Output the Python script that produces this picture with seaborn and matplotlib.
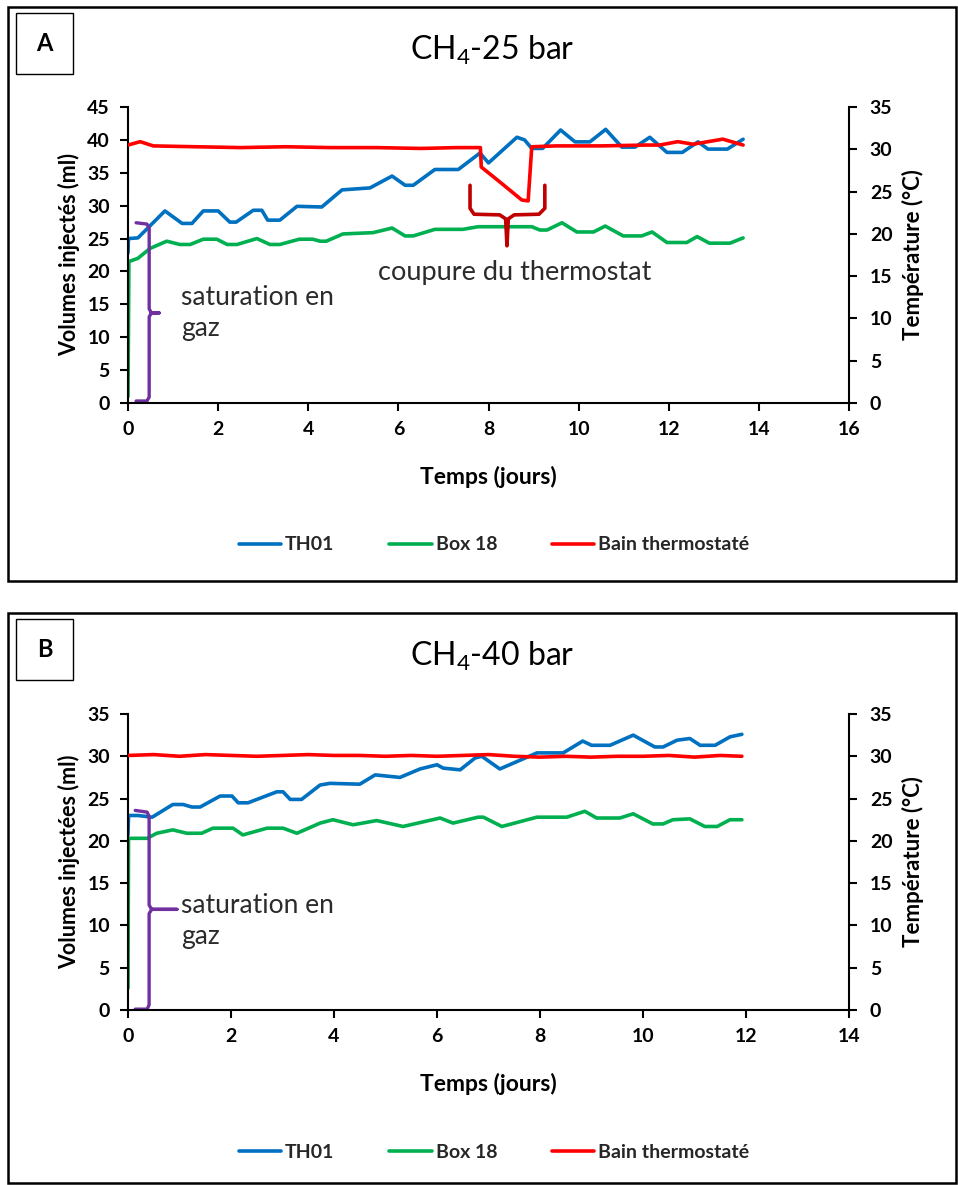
import matplotlib
matplotlib.use("Agg")
import matplotlib.pyplot as plt
import seaborn as sns
from matplotlib.patches import Rectangle

sns.set_theme(style="white")
plt.rcParams['font.family'] = ['Lato', 'DejaVu Sans']
plt.rcParams['mathtext.fontset'] = 'custom'
plt.rcParams['mathtext.rm'] = 'Lato'
plt.rcParams['mathtext.it'] = 'Lato:italic'
plt.rcParams['mathtext.bf'] = 'Lato:bold'

# ---------------- Data: panel A (CH4-25 bar) ----------------
a_th01_days = [0, 0.01, 0.22, 0.82, 1.2, 1.42, 1.67, 2.0, 2.26, 2.4, 2.78, 2.97, 3.1, 3.37, 3.75, 4.3,
               4.75, 5.37, 5.86, 6.15, 6.33, 6.81, 7.33, 7.81, 8.0, 8.63, 8.8, 8.96, 9.2, 9.6, 9.92,
               10.25, 10.6, 10.96, 11.25, 11.58, 11.96, 12.3, 12.65, 12.87, 13.3, 13.65]
a_th01 = [22.8, 25.0, 25.1, 29.2, 27.3, 27.3, 29.2, 29.2, 27.5, 27.5, 29.3, 29.3, 27.8, 27.8, 29.9, 29.8,
          32.4, 32.7, 34.5, 33.1, 33.1, 35.5, 35.5, 38.0, 36.5, 40.4, 40.0, 38.7, 38.7, 41.5, 39.7,
          39.7, 41.6, 38.9, 38.9, 40.4, 38.1, 38.1, 39.7, 38.6, 38.6, 40.1]

a_box_days = [0, 0.02, 0.1, 0.22, 0.49, 0.86, 1.15, 1.38, 1.67, 1.97, 2.2, 2.42, 2.86, 3.15, 3.37, 3.8,
              4.1, 4.26, 4.4, 4.77, 5.44, 5.86, 6.15, 6.33, 6.81, 7.43, 7.77, 8.96, 9.14, 9.3, 9.63,
              9.96, 10.33, 10.59, 10.99, 11.4, 11.63, 11.96, 12.4, 12.63, 12.9, 13.36, 13.65]
a_box = [1.0, 21.5, 21.7, 22.0, 23.5, 24.6, 24.1, 24.1, 24.9, 24.9, 24.1, 24.1, 25.0, 24.1, 24.1, 24.9,
         24.9, 24.6, 24.6, 25.7, 25.9, 26.6, 25.4, 25.4, 26.4, 26.4, 26.8, 26.8, 26.3, 26.3, 27.4,
         26.0, 26.0, 26.9, 25.4, 25.4, 26.0, 24.4, 24.4, 25.3, 24.3, 24.3, 25.1]

a_bain_days = [0, 0.27, 0.56, 1.5, 2.5, 3.5, 4.5, 5.5, 6.5, 7.3, 7.82, 7.84, 8.26, 8.74, 8.88, 8.96,
               9.5, 10.5, 11.5, 11.8, 12.2, 12.54, 13.2, 13.65]
a_bain = [30.5, 30.9, 30.4, 30.3, 30.2, 30.3, 30.2, 30.2, 30.1, 30.2, 30.2, 27.9, 26.1, 24.0, 23.9, 30.3,
          30.4, 30.4, 30.5, 30.5, 30.9, 30.6, 31.2, 30.5]

# ---------------- Data: panel B (CH4-40 bar) ----------------
b_th01_days = [0, 0.01, 0.19, 0.47, 0.87, 1.07, 1.24, 1.4, 1.79, 2.02, 2.14, 2.33, 2.89, 3.01, 3.15,
               3.37, 3.73, 3.92, 4.5, 4.8, 5.28, 5.67, 6.0, 6.12, 6.45, 6.74, 6.87, 7.22, 7.94, 8.45,
               8.83, 9.0, 9.36, 9.81, 10.23, 10.39, 10.66, 10.91, 11.11, 11.4, 11.69, 11.92]
b_th01 = [20.7, 23.0, 23.0, 22.8, 24.3, 24.3, 24.0, 24.0, 25.3, 25.3, 24.5, 24.5, 25.8, 25.8, 24.9,
          24.9, 26.6, 26.8, 26.7, 27.8, 27.5, 28.5, 29.0, 28.6, 28.4, 29.8, 30.0, 28.5, 30.4, 30.4,
          31.8, 31.3, 31.3, 32.5, 31.1, 31.1, 31.9, 32.1, 31.3, 31.3, 32.3, 32.6]

b_box_days = [0, 0.01, 0.37, 0.56, 0.87, 1.14, 1.43, 1.65, 2.04, 2.23, 2.7, 3.01, 3.28, 3.73, 3.98,
              4.37, 4.83, 5.34, 6.06, 6.31, 6.8, 6.9, 7.26, 7.94, 8.52, 8.87, 9.1, 9.55, 9.81, 10.19,
              10.39, 10.58, 10.91, 11.2, 11.44, 11.69, 11.92]
b_box = [2.6, 20.3, 20.3, 20.9, 21.3, 20.9, 20.9, 21.5, 21.5, 20.7, 21.5, 21.5, 20.9, 22.1, 22.5,
         21.9, 22.4, 21.7, 22.7, 22.1, 22.8, 22.8, 21.7, 22.8, 22.8, 23.5, 22.7, 22.7, 23.2, 22.0,
         22.0, 22.5, 22.6, 21.7, 21.7, 22.5, 22.5]

b_bain_days = [0, 0.5, 1.0, 1.5, 2.0, 2.5, 3.0, 3.5, 4.0, 4.5, 5.0, 5.5, 6.0, 6.5, 7.0, 7.5, 8.0,
               8.5, 9.0, 9.5, 10.0, 10.5, 11.0, 11.5, 11.92]
b_bain = [30.1, 30.2, 30.0, 30.2, 30.1, 30.0, 30.1, 30.2, 30.1, 30.1, 30.0, 30.1, 30.0, 30.1, 30.2,
          30.0, 29.9, 30.0, 29.9, 30.0, 30.0, 30.1, 29.9, 30.1, 30.0]

# ---------------- Annotation brace shapes (days, ml) ----------------
a_sat_x = [0.18, 0.42, 0.47, 0.47, 0.52, 0.69, 0.52, 0.47, 0.47, 0.42, 0.18]
a_sat_y = [27.4, 27.2, 26.6, 14.3, 13.7, 13.7, 13.7, 13.1, 0.9, 0.3, 0.3]
a_cut_x = [7.59, 7.59, 7.68, 8.25, 8.38, 8.41, 8.44, 8.57, 9.12, 9.25, 9.25]
a_cut_y = [33.1, 29.6, 28.7, 28.6, 28.0, 23.9, 28.0, 28.6, 28.7, 29.6, 33.1]
b_sat_x = [0.14, 0.37, 0.41, 0.41, 0.46, 0.95, 0.46, 0.41, 0.41, 0.37, 0.14]
b_sat_y = [23.6, 23.4, 22.9, 12.4, 11.9, 11.9, 11.9, 11.4, 0.6, 0.1, 0.1]

series_labels = ["TH01", "Box 18", "Bain thermostaté"]
C_BLUE, C_GREEN, C_RED = "#0070C0", "#00B050", "#FF0000"
C_PURPLE, C_DARKRED = "#7030A0", "#C00000"

W, H = 958, 1185
fig = plt.figure(figsize=(W / 100, H / 100), dpi=100)


def fx(px):
    return px / W


def fy(py):
    return 1 - py / H


def bold_ticks(ax):
    for lab in ax.get_xticklabels() + ax.get_yticklabels():
        lab.set_fontweight('bold')


def panel(top_px, bottom_px, frame_top, frame_bot, letter, title, xmax, ymax,
          th_d, th_v, bx_d, bx_v, bn_d, bn_v, ylabel, sat_x, sat_y, sat_text_xy, legend_y):
    # outer frame
    fig.add_artist(Rectangle((fx(8), fy(frame_bot)), fx(948), (frame_bot - frame_top) / H,
                             transform=fig.transFigure, fill=False, edgecolor='black', lw=1.8))
    # letter box
    ltop = frame_top + 6
    fig.add_artist(Rectangle((fx(16), fy(ltop + 61)), fx(57), 61 / H, transform=fig.transFigure,
                             fill=False, edgecolor='black', lw=1.0))
    fig.text(fx(44.5), fy(ltop + 30.5), letter, ha='center', va='center', fontsize=17,
             fontweight='bold', color='black')
    fig.text(fx(492), fy(frame_top + 43), title, ha='center', va='center', fontsize=23, color='black')

    ax = fig.add_axes([fx(128), fy(bottom_px), fx(849 - 128), (bottom_px - top_px) / H])
    ax2 = ax.twinx()
    sns.lineplot(x=th_d, y=th_v, ax=ax, color=C_BLUE, lw=2.6, estimator=None, sort=False,
                 label=series_labels[0], legend=False)
    sns.lineplot(x=bx_d, y=bx_v, ax=ax, color=C_GREEN, lw=2.6, estimator=None, sort=False,
                 label=series_labels[1], legend=False)
    sns.lineplot(x=bn_d, y=bn_v, ax=ax2, color=C_RED, lw=2.6, estimator=None, sort=False,
                 label=series_labels[2], legend=False)
    ax.plot(sat_x, sat_y, color=C_PURPLE, lw=2.4, solid_joinstyle='round', clip_on=False)
    ax.text(sat_text_xy[0], sat_text_xy[1], "saturation en\ngaz", ha='left', va='top',
            fontsize=19, color='#2b2b2b', linespacing=1.3)

    ax.set_xlim(0, xmax)
    ax.set_ylim(0, ymax)
    ax2.set_ylim(0, 35)
    ax.set_xticks(range(0, xmax + 1, 2))
    ax.set_yticks(range(0, ymax + 1, 5))
    ax2.set_yticks(range(0, 36, 5))
    for a in (ax, ax2):
        a.set_facecolor('none')
        a.spines['top'].set_visible(False)
        for s in a.spines.values():
            s.set_color('black')
            s.set_linewidth(1.5)
    ax.spines['right'].set_visible(False)
    ax2.spines['left'].set_visible(False)
    ax2.spines['bottom'].set_visible(False)
    ax.tick_params(axis='both', direction='out', length=6, width=1.5, labelsize=14,
                   colors='black', pad=7, left=True, bottom=True)
    ax2.tick_params(axis='y', direction='out', length=6, width=1.5, labelsize=14,
                    colors='black', pad=9, right=True)
    bold_ticks(ax)
    bold_ticks(ax2)
    ax.set_xlabel("Temps (jours)", fontsize=16.5, fontweight='bold', labelpad=20, color='black')
    ax.set_ylabel(ylabel, fontsize=15.5, fontweight='bold', labelpad=5, color='black')
    ax2.set_ylabel("Température (°C)", fontsize=16, fontweight='bold', labelpad=7, color='black')
    ax.grid(False)
    ax2.grid(False)

    h1, l1 = ax.get_legend_handles_labels()
    h2, l2 = ax2.get_legend_handles_labels()
    fig.legend(h1 + h2, l1 + l2, loc='center', bbox_to_anchor=(fx(494), fy(legend_y)), ncol=3,
               frameon=False, prop={'weight': 'bold', 'size': 14}, handlelength=2.2,
               handletextpad=0.2, columnspacing=2.8)
    return ax, ax2


axA, axA2 = panel(107, 403, 7, 581, "A", "CH$_4$-25 bar", 16, 45,
                  a_th01_days, a_th01, a_box_days, a_box, a_bain_days, a_bain,
                  "Volumes injectés (ml)", a_sat_x, a_sat_y, (1.18, 17.9), 545)
axA.plot(a_cut_x, a_cut_y, color=C_DARKRED, lw=2.6, solid_joinstyle='round')
axA.text(5.55, 19.9, "coupure du thermostat", ha='left', va='center', fontsize=19.5, color='#2b2b2b')

axB, axB2 = panel(714, 1010, 613, 1183, "B", "CH$_4$-40 bar", 14, 35,
                  b_th01_days, b_th01, b_box_days, b_box, b_bain_days, b_bain,
                  "Volumes injectées (ml)", b_sat_x, b_sat_y, (1.03, 13.8), 1152)

fig.savefig("out.png", dpi=100, facecolor='white')
